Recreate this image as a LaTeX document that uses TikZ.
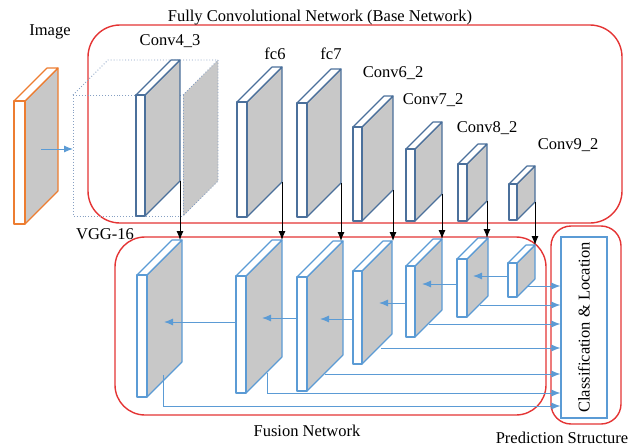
\documentclass[tikz,border=0pt]{standalone}
\usepackage{fontspec}
\setmainfont{Liberation Serif}
\usetikzlibrary{arrows.meta,calc}

\definecolor{slabgray}{RGB}{200,200,200}
\definecolor{lblue}{RGB}{91,155,213}
\definecolor{dblue}{RGB}{75,112,155}
\definecolor{boxred}{RGB}{228,52,52}
\definecolor{imgorange}{RGB}{237,125,49}
\definecolor{dotblue}{RGB}{135,160,195}

% A feature-map slab: white front face, grey side face, white top face.
% #1 name, #2 front-left x, #3 front-top y, #4 front-bottom y,
% #5 front width, #6 depth, #7 edge colour
\newcommand\slab[7]{%
  \coordinate (#1-fl) at (#2,#3);
  \coordinate (#1-fr) at ({#2+#5},#3);
  \coordinate (#1-bl) at (#2,#4);
  \coordinate (#1-br) at ({#2+#5},#4);
  \coordinate (#1-tl) at ({#2+#6},{#3-#6});
  \coordinate (#1-tr) at ({#2+#5+#6},{#3-#6});
  \coordinate (#1-dr) at ({#2+#5+#6},{#4-#6});
  \filldraw[slabedge, draw=#7, fill=slabgray] (#1-fr) -- (#1-tr) -- (#1-dr) -- (#1-br) -- cycle;
  \filldraw[slabedge, draw=#7, fill=white] (#1-fl) -- (#1-tl) -- (#1-tr) -- (#1-fr) -- cycle;
  \filldraw[slabedge, draw=#7, fill=white] (#1-fl) rectangle (#1-br);
}

\begin{document}
\begin{tikzpicture}[x=1pt, y=-1pt,
  slabedge/.style={line width=1.1pt, line join=round},
  txt/.style={font=\fontsize{16.5}{19}\selectfont, inner sep=0pt},
  redbox/.style={draw=boxred, line width=1.4pt},
  barrow/.style={draw=lblue, line width=1pt, -{Latex[length=9pt,width=7pt]}},
  karrow/.style={draw=black, line width=1pt, -{Latex[length=9pt,width=7pt]}},
  dotline/.style={draw=dotblue, line width=0.9pt, dotted}]

\useasboundingbox (0,0) rectangle (635,447);

% ---- group outlines ----
\draw[redbox, rounded corners=32pt] (88,25) rectangle (622,223);
\draw[redbox, rounded corners=30pt] (115,237) rectangle (546,415);
\draw[redbox, rounded corners=20pt] (551,226) rectangle (621,424);

% ---- input image ----
\slab{img}{14}{101}{224}{11}{33}{imgorange}

% ---- VGG-16 block (dotted cube) ----
\coordinate (v-fl) at (73,95);
\coordinate (v-fr) at (183,95);
\coordinate (v-bl) at (73,216);
\coordinate (v-br) at (183,216);
\coordinate (v-tl) at (108,60);
\coordinate (v-tr) at (218,60);
\coordinate (v-dr) at (218,181);
\fill[slabgray] (v-fr) -- (v-tr) -- (v-dr) -- (v-br) -- cycle;
\draw[dotline] (v-fl) rectangle (v-br);
\draw[dotline] (v-fl) -- (v-tl) -- (v-tr) -- (v-dr) -- (v-br);
\draw[dotline] (v-fr) -- (v-tr);

\draw[barrow] (41,149) -- (v-fl |- 0,149);

% ---- base network ----
\slab{c43}{136}{95}{216}{9}{35}{dblue}
\slab{fc6}{237}{102}{217}{10}{35}{dblue}
\slab{fc7}{297}{103}{217}{10}{34}{dblue}
\slab{c62}{353}{127}{221}{9}{31}{dblue}
\slab{c72}{406}{149}{221}{9}{27}{dblue}
\slab{c82}{458}{164}{221}{9}{20}{dblue}
\slab{c92}{509}{184}{220}{8}{18}{dblue}

% ---- fusion network ----
\slab{f1}{137}{275}{397}{10}{35}{lblue}
\slab{f2}{236}{276}{393}{10}{36}{lblue}
\slab{f3}{297}{277}{391}{10}{36}{lblue}
\slab{f4}{353}{271}{364}{9}{30}{lblue}
\slab{f5}{406}{266}{337}{9}{27}{lblue}
\slab{f6}{457}{259}{317}{10}{21}{lblue}
\slab{f7}{508}{263}{297}{9}{18}{lblue}

% ---- base -> fusion connections ----
\draw[karrow] (c43-dr) -- (c43-dr |- f1-tr);
\draw[karrow] (fc6-dr) -- (fc6-dr |- f2-tr);
\draw[karrow] (fc7-dr) -- (fc7-dr |- f3-tr);
\draw[karrow] (c62-dr) -- (c62-dr |- f4-tr);
\draw[karrow] (c72-dr) -- (c72-dr |- f5-tr);
\draw[karrow] (c82-dr) -- (c82-dr |- f6-tr);
\draw[karrow] (c92-dr) -- (c92-dr |- f7-tr);

% ---- top-down fusion (deeper map into shallower map) ----
\coordinate (f6-in) at (473,276);
\coordinate (f5-in) at (422,284);
\coordinate (f4-in) at (379,303);
\coordinate (f3-in) at (320,319);
\coordinate (f2-in) at (262,318);
\coordinate (f1-in) at (164,322);
\draw[barrow] (f7-fl |- f6-in) -- (f6-in);
\draw[barrow] (f6-fl |- f5-in) -- (f5-in);
\draw[barrow] (f5-fl |- f4-in) -- (f4-in);
\draw[barrow] (f4-fl |- f3-in) -- (f3-in);
\draw[barrow] (f3-fl |- f2-in) -- (f2-in);
\draw[barrow] (f2-fl |- f1-in) -- (f1-in);

% ---- prediction structure ----
\node[draw=lblue, line width=1.1pt, minimum width=46pt, minimum height=181pt, inner sep=0pt] (cls) at (584,327.5) {};
\node[txt, rotate=90] at (cls.center) {Classification \& Location};

\coordinate (f7-out) at (527,286);
\coordinate (f6-out) at (480,305);
\coordinate (f5-out) at (429,324);
\coordinate (f4-out) at (381,348);
\coordinate (f3-out) at (325,374);
\coordinate (f2-out) at (267,373);
\coordinate (f2-bend) at (267,393);
\coordinate (f1-out) at (163,375);
\coordinate (f1-bend) at (163,406);
\draw[barrow] (f7-out) -- (f7-out -| cls.west);
\draw[barrow] (f6-out) -- (f6-out -| cls.west);
\draw[barrow] (f5-out) -- (f5-out -| cls.west);
\draw[barrow] (f4-out) -- (f4-out -| cls.west);
\draw[barrow] (f3-out) -- (f3-out -| cls.west);
\draw[barrow] (f2-out) -- (f2-bend) -- (f2-bend -| cls.west);
\draw[barrow] (f1-out) -- (f1-bend) -- (f1-bend -| cls.west);

% ---- labels ----
\node[txt] (t-title) at (320,18) {Fully Convolutional Network (Base Network)};
\node[txt] (t-img) at (50,32) {Image};
\node[txt] (t-c43) at (170,41) {Conv4\_3};
\node[txt] (t-fc6) at (275,54) {fc6};
\node[txt] (t-fc7) at (331,54) {fc7};
\node[txt] (t-c62) at (393,73) {Conv6\_2};
\node[txt] (t-c72) at (433,100) {Conv7\_2};
\node[txt] (t-c82) at (487,128) {Conv8\_2};
\node[txt] (t-c92) at (568,145) {Conv9\_2};
\node[txt] (t-vgg) at (105,234) {VGG-16};
\node[txt] (t-fus) at (307,431) {Fusion Network};
\node[txt] (t-pred) at (562,438) {Prediction Structure};

\end{tikzpicture}
\end{document}
